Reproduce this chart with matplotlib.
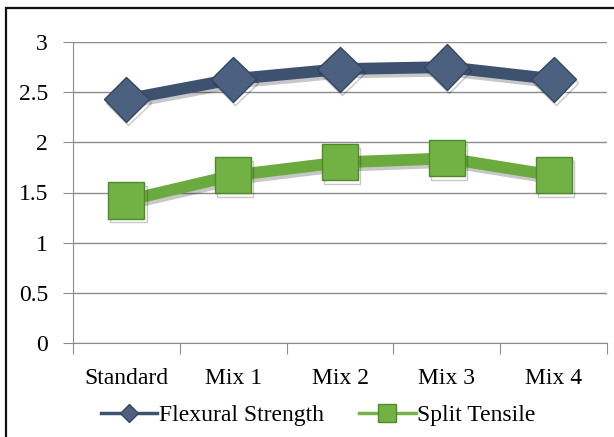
import numpy as np
import matplotlib
matplotlib.use("Agg")
import matplotlib.pyplot as plt
import matplotlib.patheffects as pe
from matplotlib.patches import Rectangle

# data
categories = ["Standard", "Mix 1", "Mix 2", "Mix 3", "Mix 4"]
flexural = [2.43, 2.63, 2.73, 2.75, 2.63]
split_tensile = [1.42, 1.67, 1.80, 1.84, 1.67]
y_ticks = [0, 0.5, 1, 1.5, 2, 2.5, 3]
y_labels = ["0", "0.5", "1", "1.5", "2", "2.5", "3"]

plt.rcParams["font.family"] = ["Liberation Serif", "DejaVu Serif"]

W, H = 614, 437
fig = plt.figure(figsize=(W / 100, H / 100), dpi=100)

# outer chart border (right/bottom run off the picture)
fig.patches.append(Rectangle((6 / W, -0.05), 1.1, 1 - 8 / H + 0.05, transform=fig.transFigure,
                             fill=False, edgecolor="#111111", linewidth=1.6, clip_on=False))

ax = fig.add_axes([73 / W, 1 - 343 / H, (607 - 73) / W, (343 - 42) / H])

x = np.arange(len(categories)) + 0.5
shadow = [pe.SimpleLineShadow(offset=(1.5, -2.5), shadow_color="black", alpha=0.22), pe.Normal()]

flex_col = "#3E5270"
green_col = "#6BAA3E"

ax.plot(x, flexural, color=flex_col, linewidth=8.5, marker="D", markersize=23,
        markerfacecolor="#4C6180", markeredgecolor="#34465F", markeredgewidth=1,
        label="Flexural Strength", zorder=3, path_effects=shadow, solid_capstyle="butt")
ax.plot(x, split_tensile, color=green_col, linewidth=8.5, marker="s", markersize=26,
        markerfacecolor="#72B244", markeredgecolor="#4E8A2A", markeredgewidth=1,
        label="Split Tensile", zorder=3, path_effects=shadow, solid_capstyle="butt")

ax.set_xlim(0, len(categories))
ax.set_ylim(0, 3)
ax.set_yticks(y_ticks)
ax.set_yticklabels(y_labels)
ax.yaxis.grid(True, color="#8C8C8C", linewidth=1)
ax.set_axisbelow(True)

ax.set_xticks(np.arange(len(categories) + 1))
ax.set_xticklabels([])
ax.set_xticks(x, minor=True)
ax.set_xticklabels(categories, minor=True)
ax.tick_params(axis="x", which="major", length=8, color="#8C8C8C", direction="out")
ax.tick_params(axis="x", which="minor", length=0, pad=18, labelsize=17)
ax.tick_params(axis="y", length=7, color="#8C8C8C", labelsize=17, pad=11)

for s in ["top", "right"]:
    ax.spines[s].set_visible(False)
ax.spines["left"].set_color("#8C8C8C")
ax.spines["bottom"].set_color("#8C8C8C")

leg_handles = [
    plt.Line2D([], [], color=flex_col, linewidth=2.5, marker="D", markersize=9,
               markerfacecolor="#4C6180", markeredgecolor="#34465F"),
    plt.Line2D([], [], color="#78B34A", linewidth=2.5, marker="s", markersize=13,
               markerfacecolor="#72B244", markeredgecolor="#4E8A2A"),
]
fig.legend(leg_handles, ["Flexural Strength", "Split Tensile"], loc="center",
           bbox_to_anchor=(318 / W, 1 - 415 / H), ncol=2, frameon=False, fontsize=17,
           handlelength=2.4, handletextpad=0.05, columnspacing=1.5)

fig.savefig("out.png", dpi=100)
